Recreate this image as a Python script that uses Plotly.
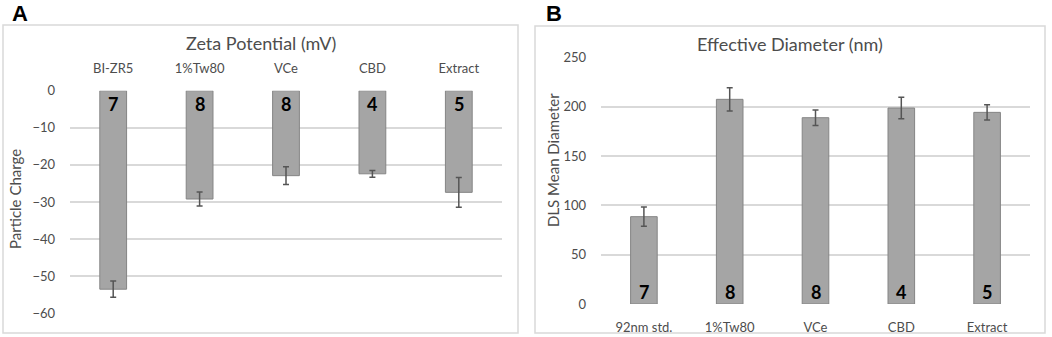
import plotly.graph_objects as go

# Panel A: Zeta potential
cats_a = ["BI-ZR5", "1%Tw80", "VCe", "CBD", "Extract"]
zeta = [-53.5, -29.2, -22.9, -22.4, -27.4]
zeta_err = [2.2, 1.9, 2.4, 0.9, 4.0]
n_a = ["7", "8", "8", "4", "5"]

# Panel B: Effective diameter
cats_b = ["92nm std.", "1%Tw80", "VCe", "CBD", "Extract"]
diam = [88.5, 207.4, 188.8, 198.6, 194.2]
diam_err = [9.7, 11.8, 7.8, 10.8, 7.8]
n_b = ["7", "8", "8", "4", "5"]

W, H = 1052, 337
FONT = "Lato"
TXT = "#4d4d4d"
BAR = "#a5a5a5"
BAR_LINE = "#858585"
GRID = "#d9d9d9"
ERR = "#555555"

def px(x):
    return x / W

def py(y):
    return 1 - y / H

fig = go.Figure()
fig.add_trace(go.Bar(
    x=cats_a, y=zeta, xaxis="x", yaxis="y",
    marker=dict(color=BAR, line=dict(color=BAR_LINE, width=1)),
    error_y=dict(type="data", array=zeta_err, color=ERR, thickness=1.5, width=3),
    showlegend=False,
))
fig.add_trace(go.Bar(
    x=cats_b, y=diam, xaxis="x2", yaxis="y2",
    marker=dict(color=BAR, line=dict(color=BAR_LINE, width=1)),
    error_y=dict(type="data", array=diam_err, color=ERR, thickness=1.5, width=3),
    showlegend=False,
))

for c, n in zip(cats_a, n_a):
    fig.add_annotation(x=c, y=-3.6, xref="x", yref="y", text=f"<b>{n}</b>",
                       showarrow=False, font=dict(family=FONT, size=18, color="black"))
for c, n in zip(cats_b, n_b):
    fig.add_annotation(x=c, y=12.5, xref="x2", yref="y2", text=f"<b>{n}</b>",
                       showarrow=False, font=dict(family=FONT, size=18, color="black"))

def ann(x, y, text, size, color=TXT, family=FONT, angle=0):
    fig.add_annotation(x=px(x), y=py(y), xref="paper", yref="paper", text=text,
                       xanchor="center", yanchor="middle", textangle=angle,
                       showarrow=False, font=dict(family=family, size=size, color=color))

# Panel titles, axis titles and letters
ann(261, 43, "Zeta Potential (mV)", 18)
ann(790, 44, "Effective Diameter (nm)", 18)
ann(15, 199, "Particle Charge", 15, angle=-90)
ann(553, 160, "DLS Mean Diameter", 15, angle=-90)
ann(20, 13, "<b>A</b>", 22, color="black", family="Liberation Sans")
ann(554, 13, "<b>B</b>", 22, color="black", family="Liberation Sans")

# Panel frames
fig.add_shape(type="rect", xref="paper", yref="paper", x0=px(3), x1=px(518), y0=py(333), y1=py(25),
              line=dict(color=GRID, width=1.5))
fig.add_shape(type="rect", xref="paper", yref="paper", x0=px(535), x1=px(1045), y0=py(333), y1=py(26),
              line=dict(color=GRID, width=1.5))

tickfont = dict(family=FONT, size=13, color=TXT)
fig.update_layout(
    template="none",
    width=W, height=H,
    margin=dict(l=0, r=0, t=0, b=0),
    paper_bgcolor="white", plot_bgcolor="white",
    bargap=0.69,
    xaxis=dict(domain=[px(70), px(502)], side="top", anchor="y", tickfont=tickfont, automargin=False,
               showgrid=False, showline=False, zeroline=False, ticks="outside", ticklen=12,
               tickcolor="rgba(0,0,0,0)"),
    yaxis=dict(domain=[py(313.3), py(90.7)], range=[-60, 0], dtick=10, tickfont=tickfont,
               automargin=False, showgrid=True, gridcolor=GRID, gridwidth=1.5, zeroline=False,
               showline=False, ticks="", ticklabelstandoff=14, anchor="x"),
    xaxis2=dict(domain=[px(601), px(1030)], side="bottom", anchor="y2", tickfont=tickfont, automargin=False,
                showgrid=False, showline=False, zeroline=False, ticks="outside", ticklen=11,
                tickcolor="rgba(0,0,0,0)"),
    yaxis2=dict(domain=[py(304), py(57.3)], range=[0, 250], dtick=50, tickfont=tickfont,
                automargin=False, showgrid=True, gridcolor=GRID, gridwidth=1.5, zeroline=False,
                showline=False, ticks="", ticklabelstandoff=14, anchor="x2"),
)

fig.write_html("out.html", config={"displayModeBar": False},
               post_script="document.body.style.margin='0px';")
